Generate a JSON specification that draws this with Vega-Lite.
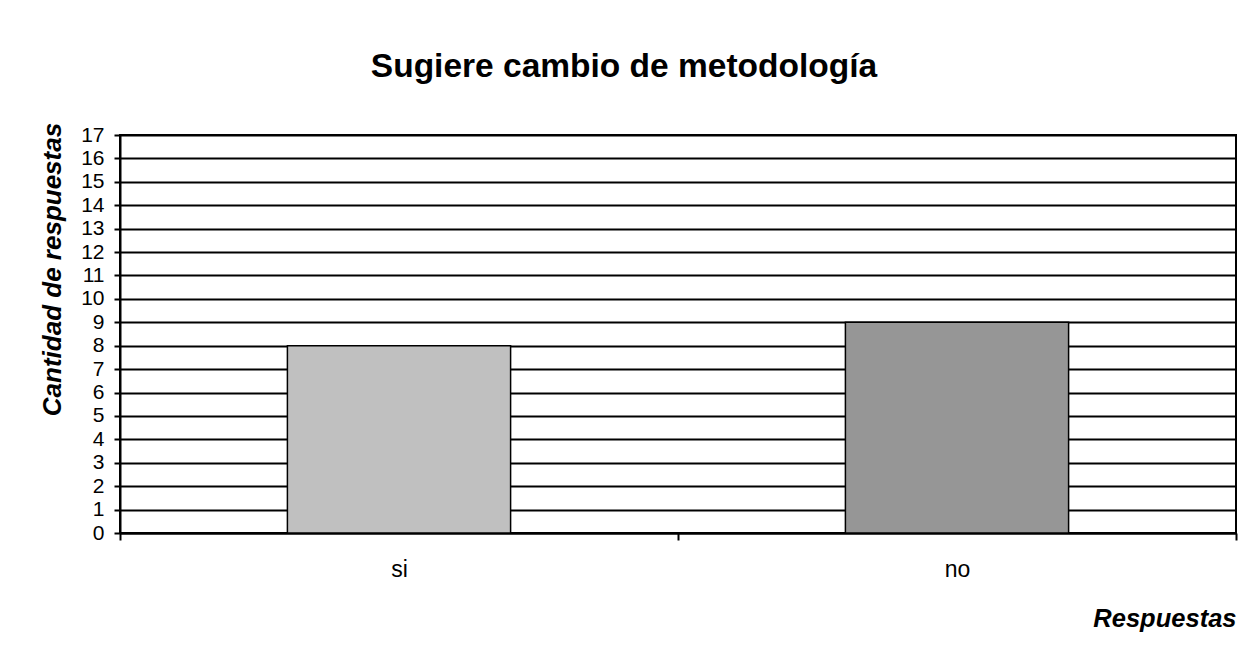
{
  "$schema": "https://vega.github.io/schema/vega-lite/v6.json",
  "autosize": {"type": "none"},
  "padding": {"left": 120, "top": 135, "right": 17, "bottom": 125},
  "width": 1116,
  "height": 398,
  "background": "white",
  "title": {
    "text": "Sugiere cambio de metodología",
    "font": "Liberation Sans",
    "fontSize": 33.5,
    "fontWeight": "bold",
    "color": "#000000",
    "anchor": "middle",
    "dx": -54,
    "baseline": "alphabetic",
    "offset": 12
  },
  "data": {
    "values": [
      {"respuesta": "si", "cantidad": 8},
      {"respuesta": "no", "cantidad": 9}
    ]
  },
  "mark": {"type": "bar", "width": {"band": 0.4}, "stroke": "#000000", "strokeWidth": 1.5},
  "encoding": {
    "x": {
      "field": "respuesta",
      "type": "nominal",
      "sort": ["si", "no"],
      "scale": {"paddingInner": 0, "paddingOuter": 0},
      "axis": {
        "title": "Respuestas",
        "labelAngle": 0,
        "labelFont": "Liberation Sans",
        "labelFontSize": 23,
        "labelColor": "#000000",
        "labelPadding": 18,
        "tickBand": "extent",
        "tickColor": "#000000",
        "tickWidth": 2,
        "tickSize": 7,
        "domainColor": "#000000",
        "domainWidth": 2,
        "grid": false,
        "titleFont": "Liberation Sans",
        "titleFontSize": 25.5,
        "titleFontWeight": "bold",
        "titleFontStyle": "italic",
        "titleColor": "#000000",
        "titleAlign": "right",
        "titleBaseline": "alphabetic",
        "titleX": 1116,
        "titleY": 93
      }
    },
    "y": {
      "field": "cantidad",
      "type": "quantitative",
      "scale": {"domain": [0, 17], "nice": false},
      "axis": {
        "title": "Cantidad de respuestas",
        "values": [0,1,2,3,4,5,6,7,8,9,10,11,12,13,14,15,16,17],
        "labelFont": "Liberation Sans",
        "labelFontSize": 21,
        "labelColor": "#000000",
        "labelPadding": 10,
        "tickColor": "#000000",
        "tickWidth": 2,
        "tickSize": 6,
        "domainColor": "#000000",
        "domainWidth": 2,
        "grid": true,
        "gridColor": "#000000",
        "gridWidth": 2,
        "gridOpacity": 1,
        "titleFont": "Liberation Sans",
        "titleFontSize": 26,
        "titleFontWeight": "bold",
        "titleFontStyle": "italic",
        "titleColor": "#000000",
        "titleAngle": -90,
        "titleAlign": "center",
        "titleBaseline": "alphabetic",
        "titleX": -60,
        "titleY": 134
      }
    },
    "color": {
      "field": "respuesta",
      "type": "nominal",
      "scale": {"domain": ["si", "no"], "range": ["#c0c0c0", "#969696"]},
      "legend": null
    }
  },
  "config": {
    "view": {"stroke": "#000000", "strokeWidth": 2}
  }
}
